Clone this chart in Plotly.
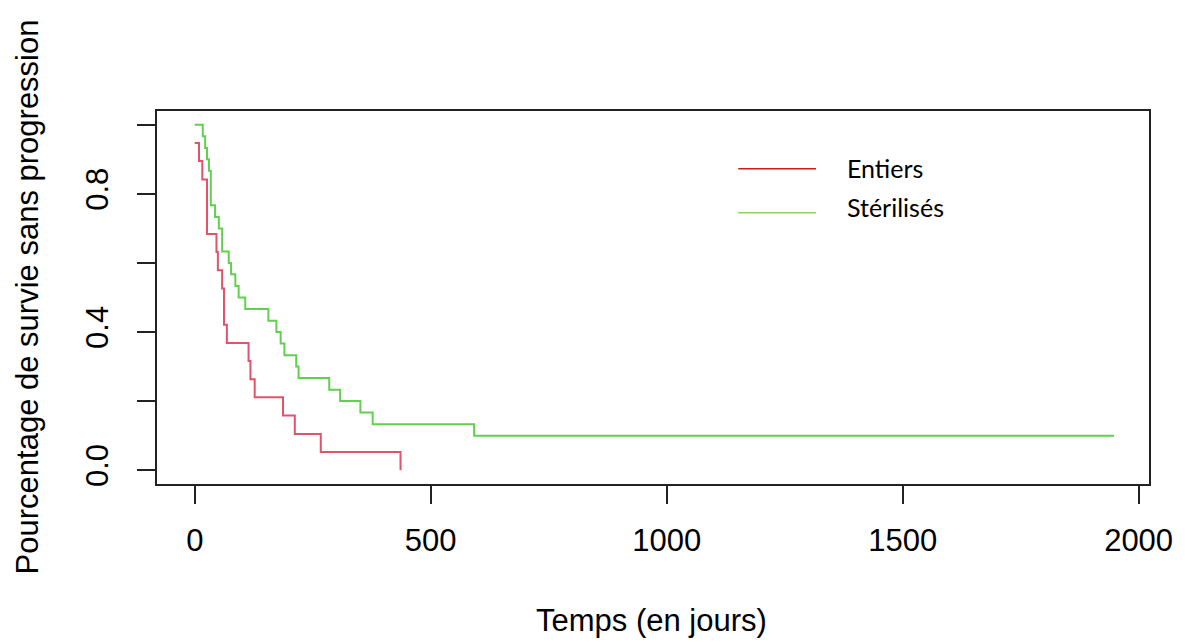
import plotly.graph_objects as go

# Kaplan-Meier step data
entiers_t = [0, 9, 16, 26, 46, 49, 58, 62, 68, 114, 118, 127, 187, 212, 267, 436]
entiers_s = [0.947, 0.895, 0.842, 0.684, 0.632, 0.579, 0.526, 0.421, 0.368,
             0.316, 0.263, 0.211, 0.158, 0.105, 0.053, 0.0]

steril_t = [0, 17, 22, 26, 30, 34, 43, 51, 58, 72, 77, 86, 93, 107, 156, 173,
            182, 190, 215, 220, 285, 308, 351, 377, 592, 1948]
steril_s = [1.0, 0.967, 0.933, 0.900, 0.867, 0.767, 0.733, 0.700, 0.633, 0.600,
            0.567, 0.533, 0.500, 0.467, 0.433, 0.400, 0.367, 0.333, 0.300, 0.267,
            0.233, 0.200, 0.167, 0.133, 0.100, 0.100]

x_ticks = [0, 500, 1000, 1500, 2000]
y_ticks = [0.0, 0.2, 0.4, 0.6, 0.8, 1.0]
y_ticktext = ["0.0", "", "0.4", "", "0.8", ""]

series_names = ["Entiers", "Stérilisés"]
curve_colors = ["#DF536B", "#61D04F"]
legend_colors = ["#D01818", "#8CD068"]

OFF = 8  # page body margin
W, H = 1185 - OFF, 642 - OFF
L, R, T, B = 157 - OFF, 1152 - OFF, 111 - OFF, 484 - OFF


def px(x):
    return (x - OFF - L) / (R - L)


def py(y):
    return (B - (y - OFF)) / (B - T)


fig = go.Figure()
fig.add_trace(go.Scatter(x=entiers_t, y=entiers_s, mode="lines", line_shape="hv",
                         line=dict(color=curve_colors[0], width=2), name=series_names[0],
                         showlegend=False))
fig.add_trace(go.Scatter(x=steril_t, y=steril_s, mode="lines", line_shape="hv",
                         line=dict(color=curve_colors[1], width=2), name=series_names[1],
                         showlegend=False))

axis_font = dict(family="Liberation Sans, Arial, sans-serif", size=31, color="#000000")

fig.update_layout(
    width=W, height=H,
    margin=dict(l=L, r=W - R, t=T, b=H - B, pad=0),
    paper_bgcolor="white", plot_bgcolor="white",
    xaxis=dict(range=[-80, 2022], tickvals=x_ticks, ticks="outside", ticklen=18,
               tickwidth=1.5, tickcolor="#222", showline=True, mirror=True,
               linecolor="#222", linewidth=1.5, showgrid=False, zeroline=False,
               tickfont=axis_font, ticklabelstandoff=10),
    yaxis=dict(range=[-0.04, 1.04], tickvals=y_ticks, ticktext=y_ticktext,
               ticks="outside", ticklen=18, tickwidth=1.5, tickcolor="#222",
               showline=True, mirror=True, linecolor="#222", linewidth=1.5,
               showgrid=False, zeroline=False, tickfont=axis_font, tickangle=-90,
               ticklabelstandoff=17),
    showlegend=False,
)

fig.add_annotation(text="Temps (en jours)", xref="paper", yref="paper",
                   x=px(653), y=py(620), xanchor="center", yanchor="middle",
                   showarrow=False, font=axis_font)
fig.add_annotation(text="Pourcentage de survie sans progression", xref="paper", yref="paper",
                   x=px(27), y=py(297), xanchor="center", yanchor="middle",
                   textangle=-90, showarrow=False, font=axis_font)

# Legend (drawn manually, as in the reference)
legend_y = [168.7, 212.7]
text_y = [168, 207]
for name, col, ly, ty in zip(series_names, legend_colors, legend_y, text_y):
    fig.add_shape(type="line", xref="paper", yref="paper",
                  x0=px(740), x1=px(818), y0=py(ly), y1=py(ly),
                  line=dict(color=col, width=1.5))
    fig.add_annotation(text=name, xref="paper", yref="paper", x=px(847), y=py(ty),
                       xanchor="left", yanchor="middle", showarrow=False,
                       font=dict(family="Lato, Open Sans, sans-serif", size=25, color="#000"))

fig.write_html("out.html")
